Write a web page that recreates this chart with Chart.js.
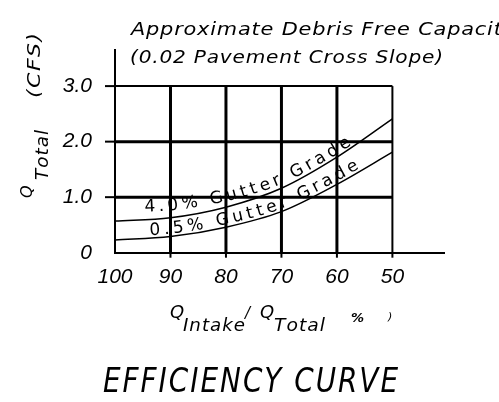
<!DOCTYPE html>
<html>
<head>
<meta charset="utf-8">
<script src="https://cdn.jsdelivr.net/npm/chart.js@4"></script>
<style>
  body { margin: 0; background: #fff; }
  canvas { display: block; }
</style>
</head>
<body>
<canvas id="chart" width="499" height="402"></canvas>
<script>
// values
const ratio = [100, 90, 80, 70, 60, 50];            // Q intake / Q total (%)
const grade40 = [0.57, 0.63, 0.82, 1.16, 1.72, 2.41]; // 4.0% gutter grade
const grade05 = [0.23, 0.29, 0.46, 0.74, 1.23, 1.81]; // 0.5% gutter grade
const xTicks = [100, 90, 80, 70, 60, 50];
const yTicks = [0, 1, 2, 3];
const yTickLabels = ['0', '1.0', '2.0', '3.0'];
const curveLabels = ['4.0% Gutter Grade', '0.5% Gutter Grade'];

const ctx = document.getElementById('chart');

// draw text char by char with a fixed gap, stretching the glyphs
// so the line fills the given width (the CAD font is wide)
function spaced(c, text, x, y, width, sp) {
  sp = sp || 0;
  let w = 0;
  for (const ch of text) w += c.measureText(ch).width;
  const sx = (width - sp * (text.length - 1)) / w;
  let cx = x;
  for (const ch of text) {
    c.save();
    c.translate(cx, y);
    c.scale(sx, 1);
    c.fillText(ch, 0, 0);
    c.restore();
    cx += c.measureText(ch).width * sx + sp;
  }
}

// point on the drawn spline at pixel x
function onCurve(meta, px) {
  const pts = meta.data;
  for (let i = 0; i < pts.length - 1; i++) {
    const p0 = pts[i], p1 = pts[i + 1];
    if (px >= p0.x && px <= p1.x) {
      const bx = [p0.x, p0.cp2x, p1.cp1x, p1.x];
      const by = [p0.y, p0.cp2y, p1.cp1y, p1.y];
      const f = (a, t) => (1 - t) ** 3 * a[0] + 3 * (1 - t) ** 2 * t * a[1] + 3 * (1 - t) * t * t * a[2] + t ** 3 * a[3];
      const d = (a, t) => 3 * (1 - t) ** 2 * (a[1] - a[0]) + 6 * (1 - t) * t * (a[2] - a[1]) + 3 * t * t * (a[3] - a[2]);
      let lo = 0, hi = 1;
      for (let k = 0; k < 30; k++) {
        const m = (lo + hi) / 2;
        if (f(bx, m) < px) lo = m; else hi = m;
      }
      const t = (lo + hi) / 2;
      return { x: f(bx, t), y: f(by, t), a: Math.atan2(d(by, t), d(bx, t)) };
    }
  }
  const p = pts[pts.length - 1];
  return { x: p.x, y: p.y, a: 0 };
}

function arcLength(meta, xa, xb) {
  let len = 0, prev = onCurve(meta, xa);
  for (let x = xa + 1; x <= xb; x++) {
    const p = onCurve(meta, x);
    len += Math.hypot(p.x - prev.x, p.y - prev.y);
    prev = p;
  }
  return len;
}

const gridPlugin = {
  id: 'cadGrid',
  beforeDatasetsDraw(chart) {
    const c = chart.ctx, xs = chart.scales.x, ys = chart.scales.y;
    const x0 = xs.getPixelForValue(xTicks[0]), x1 = xs.getPixelForValue(xTicks[xTicks.length - 1]);
    const y0 = ys.getPixelForValue(0), y1 = ys.getPixelForValue(yTicks[yTicks.length - 1]);
    c.save();
    c.strokeStyle = '#000';
    xTicks.slice(1).forEach((v, i, arr) => {
      const x = xs.getPixelForValue(v);
      c.lineWidth = i === arr.length - 1 ? 2 : 3;
      c.beginPath(); c.moveTo(x, y0); c.lineTo(x, y1); c.stroke();
      c.lineWidth = 2;
      c.beginPath(); c.moveTo(x, y0); c.lineTo(x, y0 + 5); c.stroke();
    });
    yTicks.slice(1).forEach((v, i, arr) => {
      const y = ys.getPixelForValue(v);
      c.lineWidth = i === arr.length - 1 ? 2 : 3;
      c.beginPath(); c.moveTo(x0, y); c.lineTo(x1, y); c.stroke();
      c.lineWidth = 2;
      c.beginPath(); c.moveTo(x0 - 10, y); c.lineTo(x0, y); c.stroke();
    });
    c.restore();
  },
  afterDatasetsDraw(chart) {
    const c = chart.ctx;
    c.save();
    c.fillStyle = '#000';
    c.font = '17px "DejaVu Sans"';
    c.textBaseline = 'alphabetic';
    const starts = [145, 150];
    const ends = [352, 360];
    const offA = [8, 3];
    const offB = [2, 3];
    curveLabels.forEach((txt, di) => {
      const meta = chart.getDatasetMeta(di);
      let w = 0;
      for (const ch of txt) w += c.measureText(ch).width;
      const extra = (arcLength(meta, starts[di], ends[di]) - w) / (txt.length - 1);
      let px = starts[di];
      for (const ch of txt) {
        const p = onCurve(meta, px);
        const k = (px - starts[di]) / (ends[di] - starts[di]);
        const off = offA[di] + (offB[di] - offA[di]) * k;
        const nx = Math.sin(p.a), ny = -Math.cos(p.a);
        c.save();
        c.translate(p.x + nx * off, p.y + ny * off);
        c.rotate(p.a);
        c.fillText(ch, 0, 0);
        c.restore();
        px += (c.measureText(ch).width + extra) * Math.cos(p.a);
      }
    });
    c.restore();
  },
  afterDraw(chart) {
    const c = chart.ctx;
    c.save();
    c.fillStyle = '#000';
    c.textBaseline = 'alphabetic';

    c.font = 'italic 17px "DejaVu Sans"';
    spaced(c, 'Approximate Debris Free Capacity', 131, 35, 384, 0.8);
    spaced(c, '(0.02 Pavement Cross Slope)', 130, 63, 313, 0.8);

    // y axis title, rotated
    c.save();
    c.translate(32, 198);
    c.rotate(-Math.PI / 2);
    c.font = 'italic 16px "DejaVu Sans"';
    c.fillText('Q', 0, 0);
    c.font = 'italic 17px "DejaVu Sans"';
    spaced(c, 'Total', 18, 16, 50, 1);
    spaced(c, '(CFS)', 100, 8, 65, 1.5);
    c.restore();

    // x axis title
    c.font = 'italic 18px "DejaVu Sans"';
    c.fillText('Q', 170, 318);
    c.font = 'italic 17px "DejaVu Sans"';
    spaced(c, 'Intake', 183, 331, 62, 1);
    c.font = 'italic 15px "DejaVu Sans"';
    c.fillText('/', 245, 318);
    c.font = 'italic 18px "DejaVu Sans"';
    c.fillText('Q', 260, 318);
    c.font = 'italic 17px "DejaVu Sans"';
    spaced(c, 'Total', 274, 331, 51, 1);
    c.font = 'italic bold 13px "DejaVu Sans"';
    c.fillText('%', 351, 322);
    c.font = 'italic 11px "DejaVu Sans"';
    c.fillText(')', 388, 320);

    c.font = 'italic 33px "DejaVu Sans"';
    spaced(c, 'EFFICIENCY CURVE', 103, 392, 295, 2);
    c.restore();
  }
};

const tickFont = { family: 'Liberation Sans', size: 21, style: 'italic' };

new Chart(ctx, {
  type: 'line',
  data: {
    datasets: [{
      label: curveLabels[0],
      data: ratio.map((x, i) => ({ x: x, y: grade40[i] })),
      borderColor: '#000',
      borderWidth: 1.5,
      pointRadius: 0,
      fill: false,
      cubicInterpolationMode: 'monotone'
    }, {
      label: curveLabels[1],
      data: ratio.map((x, i) => ({ x: x, y: grade05[i] })),
      borderColor: '#000',
      borderWidth: 1.5,
      pointRadius: 0,
      fill: false,
      cubicInterpolationMode: 'monotone'
    }]
  },
  options: {
    responsive: false,
    animation: false,
    devicePixelRatio: 1,
    layout: { padding: { top: 50, right: 55, left: 0, bottom: 0 } },
    plugins: { legend: { display: false }, tooltip: { enabled: false } },
    scales: {
      x: {
        type: 'linear',
        reverse: true,
        min: 40.7,
        max: 100,
        afterBuildTicks: s => { s.ticks = xTicks.map(v => ({ value: v })); },
        afterFit: s => { s.height = 149.3; },
        grid: { display: false },
        border: { display: true, color: '#000', width: 2 },
        ticks: { color: '#000', font: tickFont, padding: 4, maxRotation: 0, autoSkip: false }
      },
      y: {
        type: 'linear',
        min: 0,
        max: 3.65,
        afterBuildTicks: s => { s.ticks = yTicks.map(v => ({ value: v })); },
        afterFit: s => { s.width = 115; },
        grid: { display: false },
        border: { display: true, color: '#000', width: 2 },
        ticks: {
          color: '#000', font: tickFont, padding: 15, autoSkip: false,
          callback: v => yTickLabels[yTicks.indexOf(v)]
        }
      }
    }
  },
  plugins: [gridPlugin]
});
</script>
</body>
</html>
